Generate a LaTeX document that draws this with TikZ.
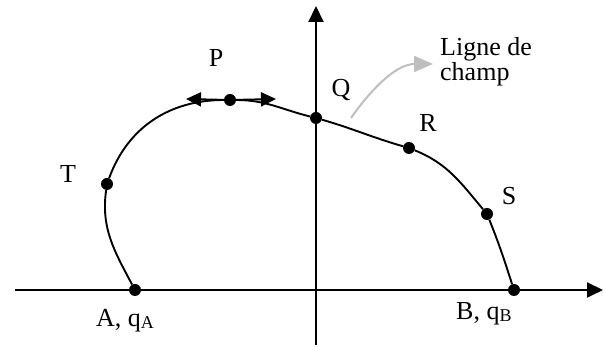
\documentclass[tikz,border=0pt]{standalone}
\usepackage{fontspec}
\setmainfont{Liberation Serif}
\usetikzlibrary{positioning, arrows.meta}
\definecolor{fieldgrey}{RGB}{190, 190, 190}
\newcommand{\subcap}[1]{\raisebox{-1.5pt}{\fontsize{18}{18}\selectfont #1}}

\begin{document}
\begin{tikzpicture}[x=1pt, y=1pt,
      dot/.style={circle, fill=black, inner sep=0pt, minimum size=12pt},
      lbl/.style={font=\fontsize{26}{23}\selectfont, inner sep=0pt},
      axis/.style={-{Triangle[length=16pt, width=15pt]}, line width=2pt},
      fieldline/.style={line width=1.9pt},
      dblarr/.style={-{Triangle[length=15pt, width=14pt]}, line width=1.9pt},
      hint/.style={-{Triangle[length=19pt, width=16pt]}, line width=2pt, color=fieldgrey}]
    \useasboundingbox (0,0) rectangle (603,347);
    % axes
    \coordinate (xl) at (15,57);
    \coordinate (xr) at (603,57);
    \coordinate (yb) at (316,2);
    \coordinate (yt) at (316,341);
    \draw[axis] (xl) -- (xr);
    \draw[axis] (yb) -- (yt);
    % points on the line
    \node[dot] (a) at (135,57) {};
    \node[dot] (t) at (107,163) {};
    \node[dot] (p) at (230,247) {};
    \node[dot] (q) at (316,229) {};
    \node[dot] (r) at (409,199) {};
    \node[dot] (s) at (487,133) {};
    \node[dot] (b) at (514,57) {};
    \draw[fieldline] (a) to[out=118, in=-98] (t)
                         to[out=70, in=180] (p)
                         to[out=0, in=166] (q)
                         to[out=-16, in=164] (r)
                         to[out=-22, in=130] (s)
                         to[out=-68, in=108] (b);
    % tangent at P
    \coordinate (pl) at (186,248);
    \coordinate (pr) at (276,248);
    \draw[dblarr] (p) -- (pl);
    \draw[dblarr] (p) -- (pr);
    % labels
    \node[lbl] (lp) at (216,289) {P};
    \node[lbl] (lt) at (68,173) {T};
    \node[lbl] (lq) at (341,257) {Q};
    \node[lbl] (lr) at (428,224) {R};
    \node[lbl] (ls) at (509,151) {S};
    \node[lbl, anchor=base west] (la) at (96,20) {A, q\subcap{A}};
    \node[lbl, anchor=base west] (lb) at (456,27) {B, q\subcap{B}};
    \node[lbl, anchor=west, align=left] (field) at (440,285) {Ligne de\\champ};
    \coordinate (hs) at (351,229);
    \coordinate (ht) at (433,283);
    \draw[hint] (hs) .. controls (367,252) and (394,283) .. (ht);
  \end{tikzpicture}
\end{document}
